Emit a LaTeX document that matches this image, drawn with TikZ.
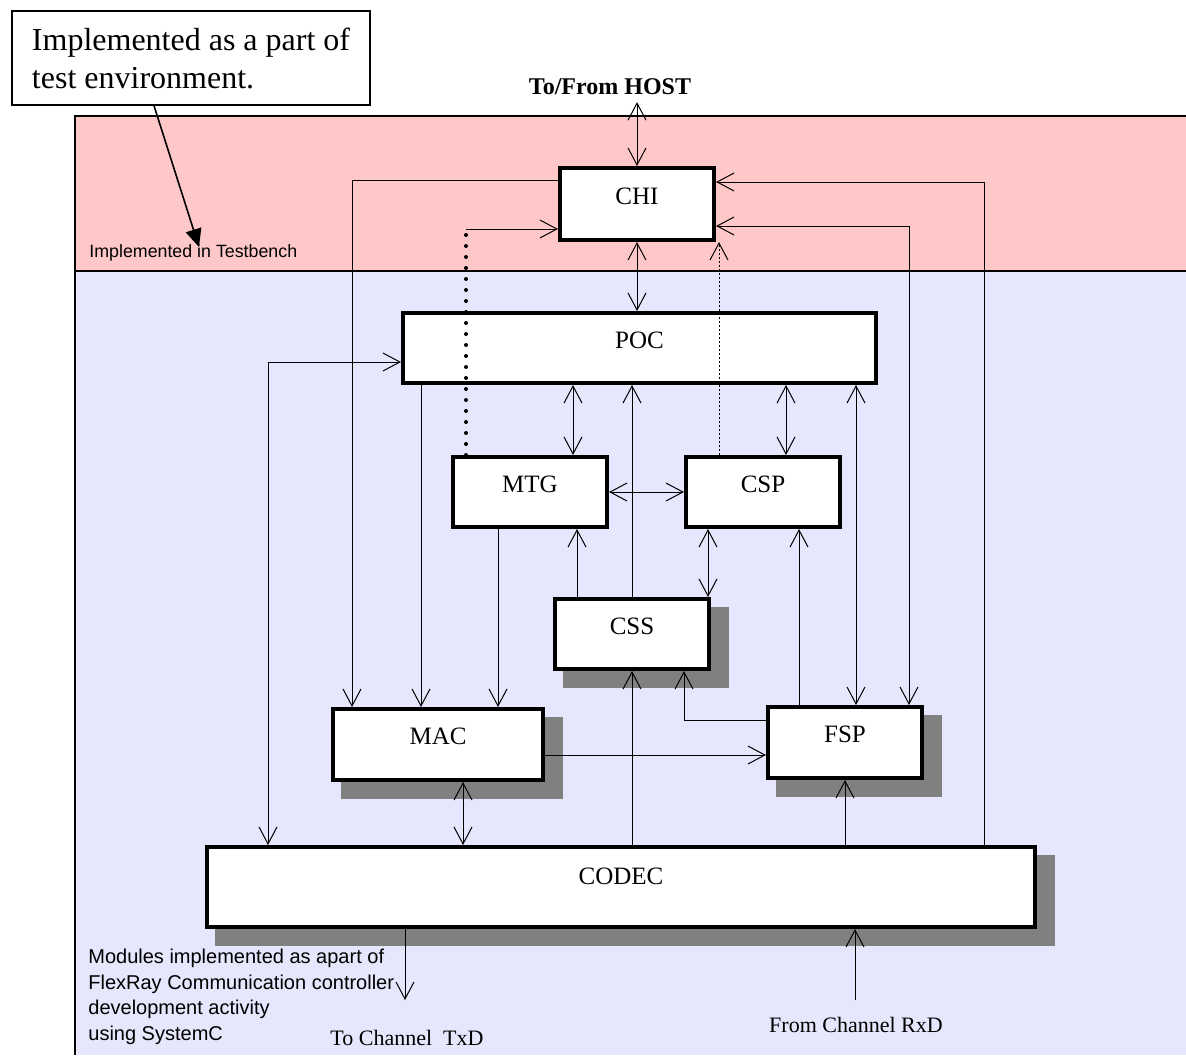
\documentclass[tikz,border=0pt]{standalone}
\usepackage{fontspec}
\setmainfont{Liberation Serif}
\newfontfamily\guifont{Liberation Sans}
\usetikzlibrary{arrows.meta,backgrounds}
\definecolor{tbpink}{HTML}{FFC8C8}
\definecolor{scblue}{HTML}{E6E6FC}
\definecolor{shadowgray}{HTML}{808080}

\begin{document}
\begin{tikzpicture}[x=0.5pt, y=-0.5pt,
  blk/.style={rectangle, draw=black, line width=2pt, fill=white, inner sep=0pt,
              font=\fontsize{12.5}{15}\selectfont, text height=8pt, text depth=8pt},
  note/.style={rectangle, draw=black, line width=0.75pt, fill=white, inner sep=0pt,
               align=left, minimum width=179pt, minimum height=47pt,
               font=\fontsize{16}{19}\selectfont},
  lbl/.style={font=\fontsize{11}{13}\selectfont},
  gui/.style={font=\guifont\fontsize{10}{12.7}\selectfont, inner sep=0pt, align=left},
  arr/.style={-{Straight Barb[length=8.5pt,width=9pt]}, line width=0.5pt},
  dbl/.style={{Straight Barb[length=8.5pt,width=9pt]}-{Straight Barb[length=8.5pt,width=9pt]},
              line width=0.5pt},
  dotbus/.style={line width=2pt, dash pattern=on 0pt off 5.5pt, line cap=round},
  dotthin/.style={dash pattern=on 1pt off 1pt},
]
  \useasboundingbox (0,0) rectangle (1186,1055);

  \node[note] (note) at (191,58) {Implemented as a part of\\ test environment.};
  \node[font=\bfseries\fontsize{12}{14}\selectfont] (host) at (610,87) {To/From HOST};

  \node[blk, minimum width=77pt, minimum height=36pt] (chi) at (637,204) {CHI};
  \node[blk, minimum width=236.5pt, minimum height=35pt] (poc) at (639.5,348) {POC};
  \node[blk, minimum width=77pt, minimum height=35pt] (mtg) at (530,492) {MTG};
  \node[blk, minimum width=77pt, minimum height=35pt] (csp) at (763,492) {CSP};
  \node[blk, minimum width=77pt, minimum height=35pt] (css) at (632,634) {CSS};
  \node[blk, minimum width=105pt, minimum height=35.5pt] (mac) at (438,744.5) {MAC};
  \node[blk, minimum width=77pt, minimum height=35.5pt] (fsp) at (845,742.5) {FSP};
  \node[blk, minimum width=414pt, minimum height=40pt, text depth=11pt] (codec) at (621,887) {CODEC};

  \node[gui, anchor=west, font=\guifont\fontsize{8.9}{10}\selectfont] (tblbl) at (89,253)
    {Implemented in Testbench};
  \node[gui, anchor=north west] (modlbl) at (88,949)
    {Modules implemented as apart of\\ FlexRay Communication controller\\ development activity\\ using SystemC};
  \node[lbl] (txdlbl) at (407,1038) {To Channel~~TxD};
  \node[lbl] (rxdlbl) at (856,1025) {From Channel RxD};

  \coordinate (tbpt) at (199,247);
  \coordinate (mtgup) at (466,229);
  \coordinate (txd) at (405,1000);
  \coordinate (rxd) at (855,1000);

  \draw[line width=0.8pt, -{Triangle[length=9pt,width=8pt]}] (note.south -| 154,0) -- (tbpt);

  \draw[dbl] (chi.north) -- (chi.north |- host.south);
  \draw[arr] (chi.west |- 0,180) -| (mac.north -| 352,0);
  \draw[dotbus] (mtg.north -| mtgup) -- (mtgup);
  \draw[arr] (mtgup) -- (chi.west |- mtgup);
  \draw[dbl] (chi.south) -- (chi.south |- poc.north);
  \draw[arr, dotthin] (csp.north -| 719,0) -- (chi.south -| 719,0);
  \draw[arr] (codec.north -| 984,0) |- (chi.east |- 0,182);
  \draw[dbl] (fsp.north -| 909,0) |- (chi.east |- 0,226);
  \draw[dbl] (poc.west |- 0,362) -| (codec.north -| 268,0);
  \draw[arr] (poc.south -| 421,0) -- (mac.north -| 421,0);
  \draw[dbl] (poc.south -| 573,0) -- (mtg.north -| 573,0);
  \draw[arr] (css.north) -- (css.north |- poc.south);
  \draw[dbl] (poc.south -| 786,0) -- (csp.north -| 786,0);
  \draw[dbl] (poc.south -| 856,0) -- (fsp.north -| 856,0);
  \draw[dbl] (mtg.east) -- (csp.west);
  \draw[arr] (mtg.south -| 498,0) -- (mac.north -| 498,0);
  \draw[arr] (css.north -| 577,0) -- (mtg.south -| 577,0);
  \draw[dbl] (csp.south -| 708,0) -- (css.north -| 708,0);
  \draw[arr] (fsp.north -| 799,0) -- (csp.south -| 799,0);
  \draw[arr] (codec.north -| css.south) -- (css.south);
  \draw[arr] (fsp.west |- 0,720) -| (css.south -| 684,0);
  \draw[arr] (mac.east |- 0,755) -- (fsp.west |- 0,755);
  \draw[dbl] (mac.south -| 463,0) -- (codec.north -| 463,0);
  \draw[arr] (codec.north -| fsp.south) -- (fsp.south);
  \draw[arr] (codec.south -| txd) -- (txd);
  \draw[arr] (rxd) -- (codec.south -| rxd);

  \begin{scope}[on background layer]
    \fill[tbpink] (75,116) rectangle (1186,271);
    \fill[scblue] (75,271) rectangle (1186,1055);
    \draw[line width=0.75pt] (1186,116) -- (75,116) -- (75,1055);
    \draw[line width=1pt] (75,271) -- (1186,271);
    \foreach \b in {css,mac,fsp,codec}
      \fill[shadowgray] ([xshift=5pt,yshift=-5pt]\b.north west)
        rectangle ([xshift=9pt,yshift=-8.5pt]\b.south east);
  \end{scope}
\end{tikzpicture}
\end{document}
